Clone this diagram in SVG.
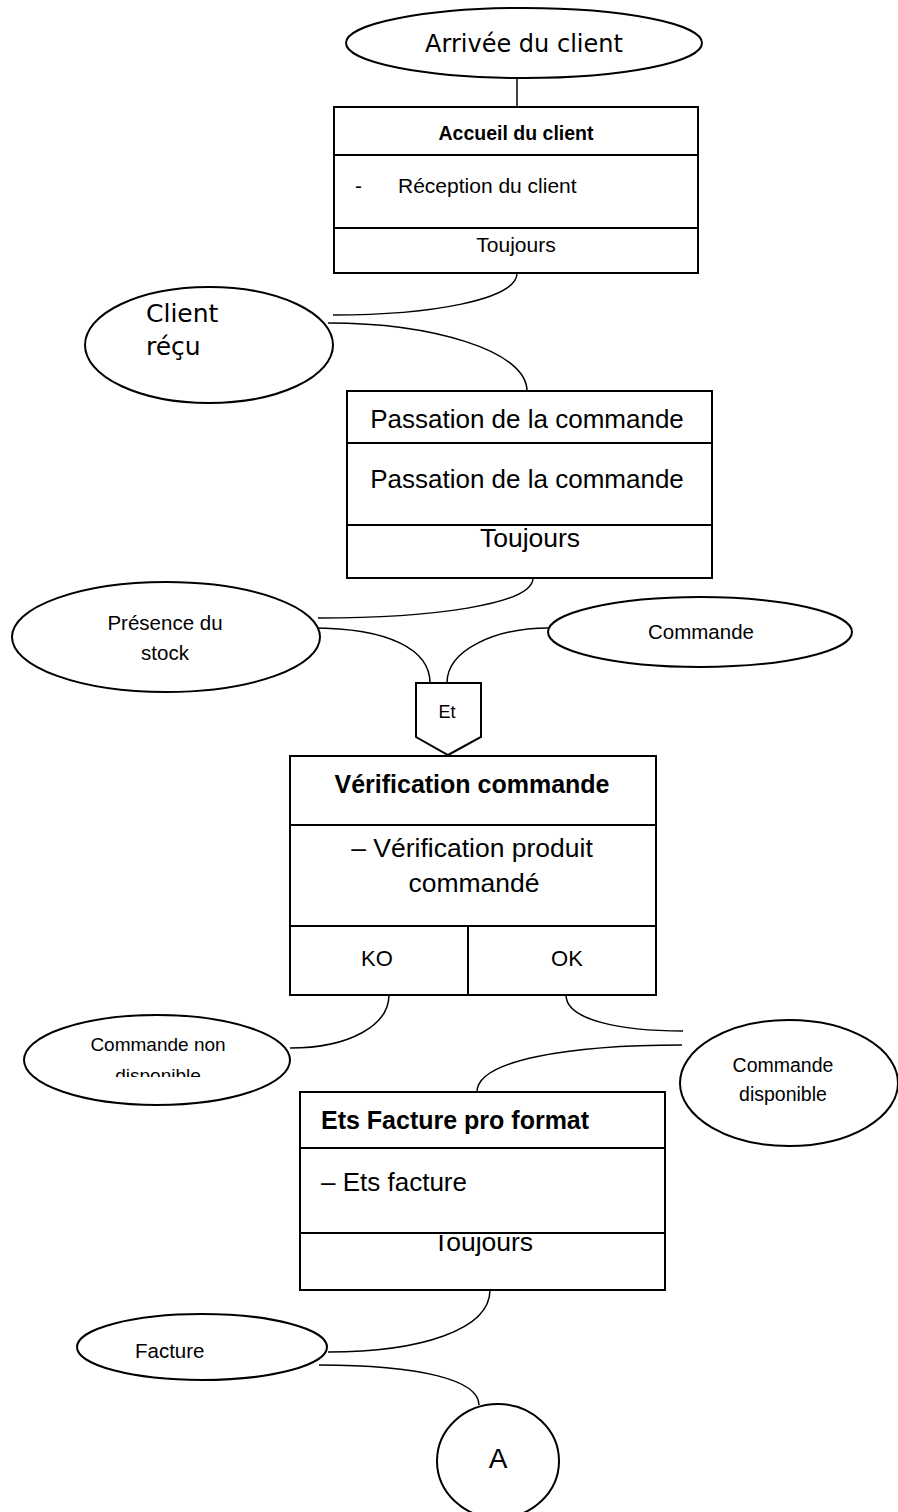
<svg xmlns="http://www.w3.org/2000/svg" width="898" height="1512" viewBox="0 0 898 1512">
  <style>
    .shape { fill: #fff; stroke: #000; stroke-width: 2; }
    .div { stroke: #000; stroke-width: 2; fill: none; }
    .link { fill: none; stroke: #000; stroke-width: 1.5; }
    text { font-family: "Liberation Sans", Arial, sans-serif; fill: #000; }
    .c { text-anchor: middle; }
    .b { font-weight: bold; }
    .dv { font-family: "DejaVu Sans", sans-serif; }
  </style>
  <defs>
    <clipPath id="clipDispo"><rect x="0" y="1000" width="300" height="77"/></clipPath>
    <clipPath id="clipTj"><rect x="300" y="1235" width="366" height="60"/></clipPath>
  </defs>
  <rect width="898" height="1512" fill="#fff"/>

  <!-- connectors -->
  <g id="connectors">
    <path class="link" d="M517,78 V107"/>
    <path class="link" d="M517,273 C517,300 430,315 333,315"/>
    <path class="link" d="M328,323 C430,323 527,350 527,391"/>
    <path class="link" d="M533,578 C533,605 430,618 318,618"/>
    <path class="link" d="M312,628 C390,628 430,650 430,683"/>
    <path class="link" d="M549,628 C495,628 447,650 447,683"/>
    <path class="link" d="M389,995 C389,1025 350,1048 290,1048"/>
    <path class="link" d="M566,995 C566,1020 620,1031 683,1031"/>
    <path class="link" d="M682,1045 C570,1045 477,1060 477,1092"/>
    <path class="link" d="M490,1290 C490,1330 420,1352 328,1352"/>
    <path class="link" d="M319,1365 C420,1365 479,1380 479,1405"/>
  </g>

  <g id="arrivee">
    <ellipse class="shape" cx="524" cy="43" rx="178" ry="35"/>
    <text class="c dv" x="524" y="52" font-size="24">Arrivée du client</text>
  </g>

  <g id="accueil">
    <rect class="shape" x="334" y="107" width="364" height="166"/>
    <line class="div" x1="334" y1="155" x2="698" y2="155"/>
    <line class="div" x1="334" y1="228" x2="698" y2="228"/>
    <text class="c b" x="516" y="140" font-size="19.5">Accueil du client</text>
    <text x="355" y="193" font-size="21">-</text>
    <text x="398" y="193" font-size="21">Réception du client</text>
    <text class="c" x="516" y="252" font-size="21">Toujours</text>
  </g>

  <g id="client-recu">
    <ellipse class="shape" cx="209" cy="345" rx="124" ry="58"/>
    <text class="dv" x="146" y="322" font-size="25">Client</text>
    <text class="dv" x="146" y="355" font-size="25">réçu</text>
  </g>

  <g id="passation">
    <rect class="shape" x="347" y="391" width="365" height="187"/>
    <line class="div" x1="347" y1="443" x2="712" y2="443"/>
    <line class="div" x1="347" y1="525" x2="712" y2="525"/>
    <text class="c" x="527" y="428" font-size="26">Passation de la commande</text>
    <text class="c" x="527" y="488" font-size="26">Passation de la commande</text>
    <text class="c" x="530" y="547" font-size="26.5">Toujours</text>
  </g>

  <g id="presence-stock">
    <ellipse class="shape" cx="166" cy="637" rx="154" ry="55"/>
    <text class="c" x="165" y="630" font-size="20.5">Présence du</text>
    <text class="c" x="165" y="660" font-size="20.5">stock</text>
  </g>

  <g id="commande">
    <ellipse class="shape" cx="700" cy="632" rx="152" ry="35"/>
    <text class="c" x="701" y="639" font-size="20.5">Commande</text>
  </g>

  <g id="et">
    <path class="shape" d="M416,683 H481 V737 L448,755 L416,737 Z"/>
    <text class="c" x="447" y="718" font-size="18">Et</text>
  </g>

  <g id="verification">
    <rect class="shape" x="290" y="756" width="366" height="239"/>
    <line class="div" x1="290" y1="825" x2="656" y2="825"/>
    <line class="div" x1="290" y1="926" x2="656" y2="926"/>
    <line class="div" x1="468" y1="926" x2="468" y2="995"/>
    <text class="c b" x="472" y="793" font-size="25">Vérification commande</text>
    <text class="c" x="472" y="857" font-size="26.5">– Vérification produit</text>
    <text class="c" x="474" y="892" font-size="26.5">commandé</text>
    <text class="c" x="377" y="966" font-size="22">KO</text>
    <text class="c" x="567" y="966" font-size="22">OK</text>
  </g>

  <g id="commande-non-dispo">
    <ellipse class="shape" cx="157" cy="1060" rx="133" ry="45"/>
    <text class="c" x="158" y="1051" font-size="19">Commande non</text>
    <text class="c" x="158" y="1082" font-size="19" clip-path="url(#clipDispo)">disponible</text>
  </g>

  <g id="commande-dispo">
    <ellipse class="shape" cx="789" cy="1083" rx="109" ry="63"/>
    <text class="c" x="783" y="1072" font-size="19.5">Commande</text>
    <text class="c" x="783" y="1101" font-size="19.5">disponible</text>
  </g>

  <g id="facture-pro-format">
    <rect class="shape" x="300" y="1092" width="365" height="198"/>
    <line class="div" x1="300" y1="1148" x2="665" y2="1148"/>
    <line class="div" x1="300" y1="1233" x2="665" y2="1233"/>
    <text class="b" x="321" y="1129" font-size="25">Ets Facture pro format</text>
    <text x="321" y="1191" font-size="26">– Ets facture</text>
    <text class="c" x="483" y="1251" font-size="26.5" clip-path="url(#clipTj)">Toujours</text>
  </g>

  <g id="facture">
    <ellipse class="shape" cx="202" cy="1347" rx="125" ry="33"/>
    <text x="135" y="1358" font-size="20.5">Facture</text>
  </g>

  <g id="connecteur-a">
    <ellipse class="shape" cx="498" cy="1461" rx="61" ry="57"/>
    <text class="c" x="498" y="1468" font-size="28">A</text>
  </g>
</svg>
